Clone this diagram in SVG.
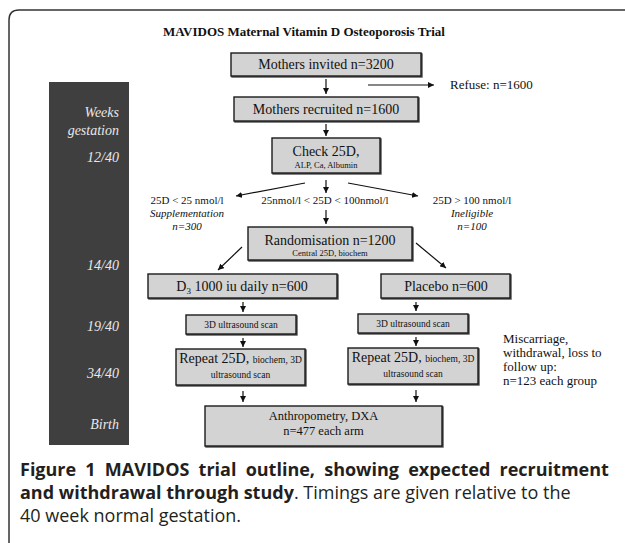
<svg xmlns="http://www.w3.org/2000/svg" width="625" height="543" viewBox="0 0 625 543">
<style>
.box{fill:#d3d3d3;stroke:#1a1a1a;stroke-width:1.4;filter:url(#sh)}
.t{font-family:"Liberation Serif","Times New Roman",serif;fill:#111}
.c{text-anchor:middle}
.wk{font-family:"Liberation Serif","Times New Roman",serif;font-style:italic;font-size:14px;fill:#e8e8e8;text-anchor:end}
.cap{font-family:"Open Sans","Noto Sans",sans-serif;font-size:18px;fill:#231f20}
.ln{stroke:#111;stroke-width:1.2;fill:none;marker-end:url(#ah)}
</style>
<defs>
<marker id="ah" viewBox="0 0 6 6" refX="6" refY="3" markerWidth="6" markerHeight="6" markerUnits="userSpaceOnUse" orient="auto">
<path d="M0,0 L6,3 L0,6 z" fill="#111"/>
</marker>
<filter id="sh" x="-5%" y="-5%" width="115%" height="130%">
<feDropShadow dx="1" dy="1" stdDeviation="0.3" flood-color="#222" flood-opacity="0.8"/>
</filter>
</defs>
<rect width="625" height="543" fill="#fff"/>
<path d="M9,543 V20 Q9,10 19,10 H625" fill="none" stroke="#333" stroke-width="1.5"/>
<text class="t c" x="304" y="36" font-size="13" font-weight="bold">MAVIDOS Maternal Vitamin D Osteoporosis Trial</text>
<g id="timeline">
<rect x="49" y="82" width="80" height="363" fill="#3f3f3f"/>
<text class="wk" x="119" y="117">Weeks</text>
<text class="wk" x="119" y="135">gestation</text>
<text class="wk" x="119" y="162">12/40</text>
<text class="wk" x="119" y="270">14/40</text>
<text class="wk" x="119" y="331">19/40</text>
<text class="wk" x="119" y="378">34/40</text>
<text class="wk" x="119" y="429">Birth</text>
</g>
<g id="connectors">
<line class="ln" x1="326" y1="79" x2="326" y2="94"/>
<line class="ln" x1="368" y1="85" x2="434" y2="85"/>
<line class="ln" x1="326" y1="124" x2="326" y2="136"/>
<line class="ln" x1="305" y1="183" x2="236" y2="196"/>
<line class="ln" x1="326" y1="180" x2="326" y2="193"/>
<line class="ln" x1="348" y1="183" x2="418" y2="196"/>
<line class="ln" x1="326" y1="210" x2="326" y2="224"/>
<line class="ln" x1="242" y1="247" x2="218" y2="270"/>
<line class="ln" x1="416" y1="243" x2="446" y2="268"/>
<line class="ln" x1="243" y1="302" x2="243" y2="312"/>
<line class="ln" x1="416" y1="302" x2="416" y2="311"/>
<line class="ln" x1="243" y1="338" x2="243" y2="347"/>
<line class="ln" x1="416" y1="337" x2="416" y2="346"/>
<line class="ln" x1="243" y1="391" x2="243" y2="402"/>
<line class="ln" x1="416" y1="390" x2="416" y2="402"/>
</g>
<g id="invited">
<rect class="box" x="231" y="53" width="190" height="23"/>
<text class="t c" x="326" y="69" font-size="14">Mothers invited n=3200</text>
</g>
<g id="refuse">
<text class="t" x="450" y="89" font-size="13">Refuse: n=1600</text>
</g>
<g id="recruited">
<rect class="box" x="234" y="97" width="184" height="24"/>
<text class="t c" x="326" y="114" font-size="14">Mothers recruited n=1600</text>
</g>
<g id="check">
<rect class="box" x="272" y="138" width="108" height="35"/>
<text class="t c" x="326" y="156" font-size="14">Check 25D,</text>
<text class="t c" x="326" y="168" font-size="8.5">ALP, Ca, Albumin</text>
</g>
<g id="low">
<text class="t c" x="187" y="204" font-size="11">25D &lt; 25 nmol/l</text>
<text class="t c" x="187" y="217" font-size="11" font-style="italic">Supplementation</text>
<text class="t c" x="187" y="230" font-size="11" font-style="italic">n=300</text>
</g>
<g id="mid">
<text class="t c" x="325" y="204" font-size="11">25nmol/l &lt; 25D &lt; 100nmol/l</text>
</g>
<g id="high">
<text class="t c" x="472" y="204" font-size="11">25D &gt; 100 nmol/l</text>
<text class="t c" x="472" y="217" font-size="11" font-style="italic">Ineligible</text>
<text class="t c" x="472" y="230" font-size="11" font-style="italic">n=100</text>
</g>
<g id="random">
<rect class="box" x="248" y="227" width="164" height="33"/>
<text class="t c" x="330" y="245" font-size="14">Randomisation n=1200</text>
<text class="t c" x="330" y="256" font-size="8.5">Central 25D, biochem</text>
</g>
<g id="d3">
<rect class="box" x="148" y="274" width="189" height="24"/>
<text class="t c" x="242" y="291" font-size="14">D<tspan font-size="9" dy="3">3</tspan><tspan dy="-3"> 1000 iu daily n=600</tspan></text>
</g>
<g id="placebo">
<rect class="box" x="381" y="274" width="129" height="24"/>
<text class="t c" x="446" y="291" font-size="14">Placebo n=600</text>
</g>
<g id="scanL">
<rect class="box" x="186" y="315" width="110" height="19"/>
<text class="t c" x="241" y="328" font-size="9.5">3D ultrasound scan</text>
</g>
<g id="scanR">
<rect class="box" x="358" y="314" width="110" height="19"/>
<text class="t c" x="413" y="327" font-size="9.5">3D ultrasound scan</text>
</g>
<g id="repeatL">
<rect class="box" x="176" y="349" width="129" height="36"/>
<text class="t c" x="240.5" y="363" font-size="14">Repeat 25D, <tspan font-size="9.5">biochem, 3D</tspan></text>
<text class="t c" x="240.5" y="378" font-size="9.5">ultrasound scan</text>
</g>
<g id="repeatR">
<rect class="box" x="348" y="348" width="130" height="36"/>
<text class="t c" x="413" y="362" font-size="14">Repeat 25D, <tspan font-size="9.5">biochem, 3D</tspan></text>
<text class="t c" x="413" y="377" font-size="9.5">ultrasound scan</text>
</g>
<g id="loss">
<text class="t" x="503" y="343" font-size="13">Miscarriage,</text>
<text class="t" x="503" y="357" font-size="13">withdrawal, loss to</text>
<text class="t" x="503" y="371" font-size="13">follow up:</text>
<text class="t" x="503" y="385" font-size="13">n=123 each group</text>
</g>
<g id="anthro">
<rect class="box" x="205" y="406" width="237" height="40"/>
<text class="t c" x="323.5" y="420" font-size="12.5">Anthropometry, DXA</text>
<text class="t c" x="323.5" y="435" font-size="12.5">n=477 each arm</text>
</g>
<g id="caption">
<text class="cap" x="20" y="476" font-weight="bold" word-spacing="4.5">Figure 1 MAVIDOS trial outline, showing expected recruitment</text>
<text class="cap" x="20" y="499"><tspan font-weight="bold">and withdrawal through study</tspan>. Timings are given relative to the</text>
<text class="cap" x="20" y="522">40 week normal gestation.</text>
</g>
</svg>
